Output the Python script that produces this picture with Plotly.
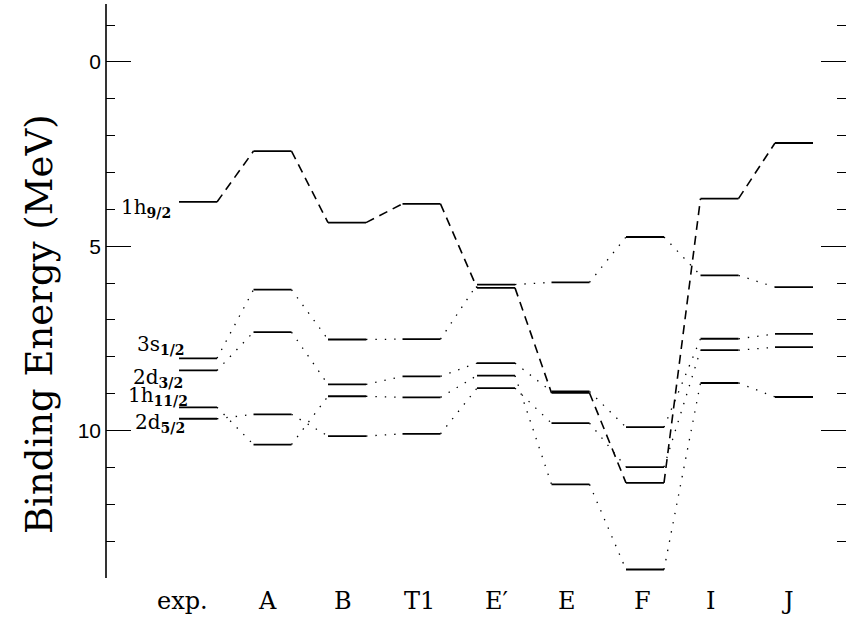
import plotly.graph_objects as go

# Calculation sets shown along the horizontal axis
columns = ["exp.", "A", "B", "T1", "E\u2032", "E", "F", "I", "J"]

# Proton single-particle binding energies (MeV) per orbital, one value per column
orbitals = ["1h9/2", "3s1/2", "2d3/2", "1h11/2", "2d5/2"]
e_1h9 = [3.80, 2.42, 4.36, 3.85, 6.13, 8.98, 11.42, 3.71, 2.20]
e_3s1 = [8.04, 6.18, 7.53, 7.52, 6.04, 5.98, 4.75, 5.79, 6.11]
e_2d3 = [8.37, 7.33, 8.75, 8.53, 8.17, 8.94, 9.91, 7.51, 7.38]
e_1h11 = [9.37, 10.38, 9.07, 9.10, 8.51, 11.46, 13.77, 8.71, 9.09]
e_2d5 = [9.68, 9.56, 10.15, 10.09, 8.85, 9.80, 10.99, 7.82, 7.74]

# Orbital names written beside the experimental levels
level_names = ["1h<sub><b>9/2</b></sub>", "3s<sub><b>1/2</b></sub>",
               "2d<sub><b>3/2</b></sub>", "1h<sub><b>11/2</b></sub>",
               "2d<sub><b>5/2</b></sub>"]

series = [e_1h9, e_3s1, e_2d3, e_1h11, e_2d5]

HALF = 0.255          # half width of a level bar (column units)
DOTS = "1.4px,8px"
DASHES = "9px,6px"
INK = "black"

fig = go.Figure()

# Connectors between neighbouring columns
for k, vals in enumerate(series):
    xs, ys = [], []
    for i in range(len(vals) - 1):
        xs += [i + HALF, i + 1 - HALF, None]
        ys += [vals[i], vals[i + 1], None]
    fig.add_trace(go.Scatter(
        x=xs, y=ys, mode="lines", hoverinfo="skip", showlegend=False,
        line=dict(color=INK, width=1.6 if k == 0 else 1.3,
                  dash=DASHES if k == 0 else DOTS)))

# Level bars
lx, ly = [], []
for vals in series:
    for i, v in enumerate(vals):
        lx += [i - HALF, i + HALF, None]
        ly += [v, v, None]
fig.add_trace(go.Scatter(x=lx, y=ly, mode="lines", hoverinfo="skip",
                         showlegend=False, line=dict(color=INK, width=1.8)))

# Orbital labels next to the experimental column
label_x = [-0.33, -0.15, -0.17, -0.11, -0.15]
label_dy = [0.17, -0.36, 0.20, -0.30, 0.12]
for name, vals, lxp, dy in zip(level_names, series, label_x, label_dy):
    fig.add_annotation(x=lxp, y=vals[0] + dy, xref="x", yref="y",
                       text=name, showarrow=False, xanchor="right",
                       yanchor="middle",
                       font=dict(family="DejaVu Serif", size=20, color=INK))

# Column names under the plot
col_shift = [-0.21, -0.07, -0.05, -0.03, 0.01, -0.05, -0.03, -0.12, -0.09]
for i, (name, s) in enumerate(zip(columns, col_shift)):
    fig.add_annotation(x=i + s, y=-0.012, xref="x", yref="paper",
                       text=name, showarrow=False, xanchor="center",
                       yanchor="top",
                       font=dict(family="DejaVu Serif", size=24, color=INK))

# Vertical title
fig.add_annotation(x=-0.09, y=0.443, xref="paper", yref="paper",
                   text="Binding Energy (MeV)", textangle=-90,
                   showarrow=False, xanchor="center", yanchor="middle",
                   font=dict(family="DejaVu Serif", size=37, color=INK))

# Left axis spine
fig.add_shape(type="line", xref="paper", yref="paper", x0=0, x1=0,
              y0=0, y1=1, line=dict(color=INK, width=1.6))

fig.update_xaxes(range=[-1.235, 8.698], showgrid=False, zeroline=False,
                 showline=False, showticklabels=False, ticks="")
fig.update_yaxes(range=[14.0, -1.57], showgrid=False, zeroline=False,
                 showline=False, mirror="ticks", ticks="inside",
                 tickmode="linear", tick0=0, dtick=5, ticklen=25,
                 tickwidth=1.4, tickcolor=INK,
                 minor=dict(ticks="inside", dtick=1, tick0=0, ticklen=9,
                            tickwidth=1.4, tickcolor=INK, showgrid=False),
                 tickfont=dict(family="Liberation Sans", size=21, color=INK),
                 ticklabelstandoff=4)

fig.update_layout(width=846, height=618,
                  margin=dict(l=106, r=0, t=4, b=40),
                  paper_bgcolor="white", plot_bgcolor="white")

fig.write_html("out.html")
